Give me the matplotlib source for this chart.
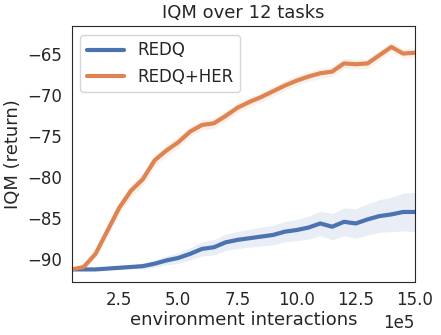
import numpy as np
import matplotlib
matplotlib.use("Agg")
import matplotlib.pyplot as plt
import seaborn as sns

sns.set_style("white")

# environment interactions (every 5e4 steps)
steps = np.arange(1, 31) * 50000

redq = [-91.3, -91.3, -91.3, -91.2, -91.1, -91.0, -90.9, -90.6, -90.2, -89.9,
        -89.4, -88.8, -88.6, -88.0, -87.7, -87.5, -87.3, -87.1, -86.7, -86.5,
        -86.2, -85.7, -86.1, -85.5, -85.7, -85.2, -84.8, -84.6, -84.3, -84.3]
redq_ci = [0.05, 0.05, 0.08, 0.1, 0.15, 0.25, 0.35, 0.45, 0.55, 0.65,
           0.75, 0.85, 0.95, 1.0, 1.05, 1.1, 1.15, 1.2, 1.25, 1.3,
           1.4, 1.5, 1.6, 1.7, 1.8, 1.9, 2.0, 2.1, 2.3, 2.4]

redq_her = [-91.3, -91.0, -89.4, -86.6, -83.8, -81.7, -80.3, -78.0, -76.8, -75.8,
            -74.5, -73.7, -73.5, -72.6, -71.6, -70.9, -70.3, -69.6, -68.9, -68.3,
            -67.8, -67.4, -67.2, -66.2, -66.3, -66.2, -65.2, -64.2, -65.0, -64.9]
redq_her_ci = [0.1, 0.3, 0.5, 0.7, 0.8, 0.8, 0.8, 0.7, 0.7, 0.7,
               0.6, 0.6, 0.6, 0.6, 0.6, 0.6, 0.6, 0.6, 0.6, 0.6,
               0.6, 0.6, 0.6, 0.6, 0.6, 0.6, 0.6, 0.6, 0.6, 0.6]

colors = sns.color_palette("deep")

fig = plt.figure(figsize=(4.41, 3.35), dpi=100)
ax = fig.add_axes([0.163, 0.159, 0.778, 0.762])

for y, ci, c, lab in [(redq, redq_ci, colors[0], "REDQ"),
                      (redq_her, redq_her_ci, colors[1], "REDQ+HER")]:
    y = np.array(y)
    ci = np.array(ci)
    ax.plot(steps, y, color=c, lw=3, label=lab)
    ax.fill_between(steps, y - ci, y + ci, color=c, alpha=0.12, lw=0)

ax.set_xlim(50000, 1500000)
ax.set_ylim(-92.8, -61.7)
ax.set_xticks(np.arange(2.5e5, 15.1e5, 2.5e5))
ax.set_yticks([-90, -85, -80, -75, -70, -65])
ax.ticklabel_format(axis="x", style="sci", scilimits=(5, 5))
ax.tick_params(labelsize=12)
ax.xaxis.get_offset_text().set_fontsize(12)

ax.set_title("IQM over 12 tasks", fontsize=13)
ax.set_xlabel("environment interactions", fontsize=13, labelpad=1)
ax.set_ylabel("IQM (return)", fontsize=13)
ax.legend(loc="upper left", fontsize=12, handlelength=2.2)

fig.savefig("out.png", dpi=100)
